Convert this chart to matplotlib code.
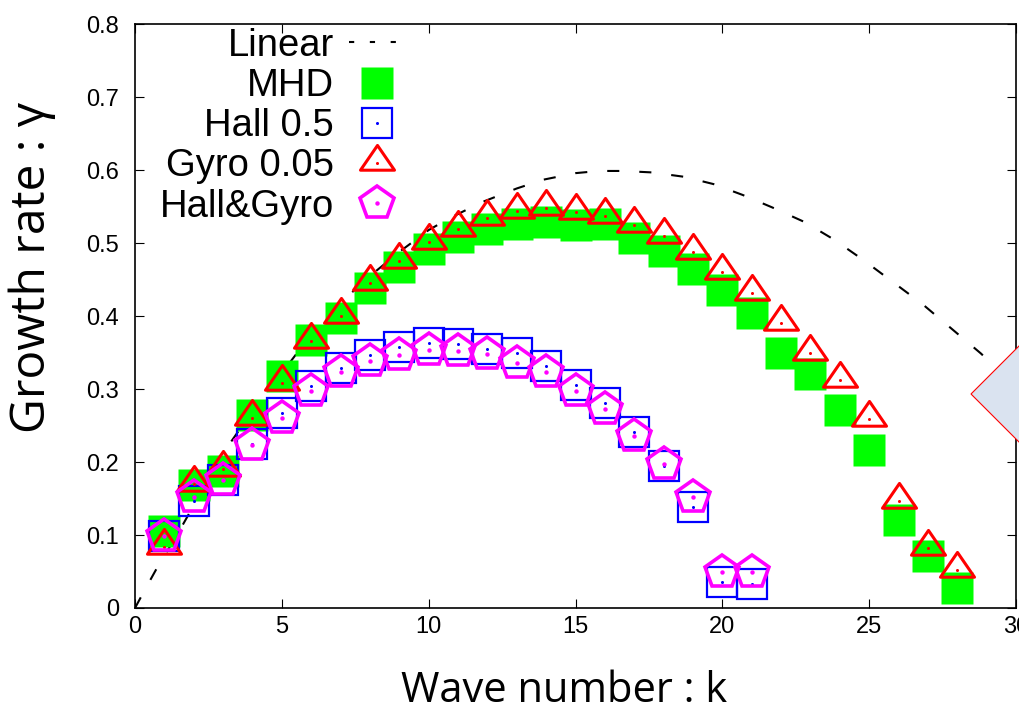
import matplotlib
matplotlib.use("Agg")
import matplotlib.pyplot as plt
from matplotlib.path import Path
from matplotlib.lines import Line2D
from matplotlib.patches import Polygon
from matplotlib.legend_handler import HandlerTuple

# ---------------- data ----------------
k_long = list(range(1, 29))
k_short = list(range(1, 22))

mhd = [0.105, 0.168, 0.188, 0.265, 0.318, 0.367, 0.398, 0.439, 0.468, 0.492,
       0.508, 0.519, 0.526, 0.529, 0.525, 0.526, 0.507, 0.489, 0.464, 0.436,
       0.404, 0.350, 0.321, 0.271, 0.217, 0.120, 0.071, 0.027]
gyro = [0.084, 0.170, 0.191, 0.261, 0.309, 0.366, 0.400, 0.445, 0.476, 0.501,
        0.519, 0.534, 0.544, 0.548, 0.543, 0.537, 0.525, 0.510, 0.488, 0.460,
        0.432, 0.391, 0.350, 0.312, 0.259, 0.147, 0.082, 0.052]
hall = [0.099, 0.146, 0.175, 0.225, 0.267, 0.304, 0.329, 0.347, 0.358, 0.363,
        0.362, 0.355, 0.349, 0.332, 0.305, 0.281, 0.241, 0.194, 0.139, 0.036,
        0.033]
hallgyro = [0.099, 0.152, 0.175, 0.223, 0.261, 0.298, 0.324, 0.338, 0.347, 0.353,
            0.352, 0.348, 0.336, 0.323, 0.297, 0.273, 0.236, 0.198, 0.152, 0.049,
            0.049]

linear_k = [0.0, 0.35, 0.75, 1.5, 2.2, 3.1, 4.0, 5.0, 6.0, 7.1, 8.0, 9.0, 10.0,
            10.7, 11.8, 13.0, 13.9, 15.0, 15.8, 16.6, 17.6, 18.7, 19.7, 20.7,
            21.7, 22.8, 23.8, 24.8, 25.8, 26.8, 27.8, 28.8, 29.3]
linear_g = [0.0, 0.026, 0.055, 0.105, 0.155, 0.218, 0.270, 0.322, 0.375, 0.422,
            0.455, 0.488, 0.518, 0.534, 0.556, 0.575, 0.587, 0.596, 0.599, 0.599,
            0.597, 0.591, 0.581, 0.566, 0.549, 0.529, 0.505, 0.477, 0.447, 0.417,
            0.383, 0.349, 0.330]

labels = ["Linear", "MHD", "Hall 0.5", "Gyro 0.05", "Hall&Gyro"]
x_ticks = [0, 5, 10, 15, 20, 25, 30]
y_ticks = [0, 0.1, 0.2, 0.3, 0.4, 0.5, 0.6, 0.7, 0.8]
y_tick_labels = ["0", "0.1", "0.2", "0.3", "0.4", "0.5", "0.6", "0.7", "0.8"]

GREEN = "#00ff00"
BLUE = "#0000ff"
RED = "#ff0000"
MAGENTA = "#ff00ff"

tri_path = Path([(0, 1.0), (-0.943, -0.371), (0.943, -0.371), (0, 1.0)],
                [Path.MOVETO, Path.LINETO, Path.LINETO, Path.CLOSEPOLY])

plt.rcParams["font.family"] = ["Liberation Sans", "DejaVu Sans"]

fig = plt.figure(figsize=(10.2, 7.11), dpi=100)
ax = fig.add_axes([135 / 1020, (711 - 608) / 711, 881 / 1020, 583.7 / 711])

ln_lin, = ax.plot(linear_k, linear_g, color="black", lw=1.5,
                  dashes=(5.8, 9.6), zorder=2)
ln_mhd, = ax.plot(k_long, mhd, ls="none", marker="s", ms=23,
                  mfc=GREEN, mec="none", zorder=3)
ln_hall, = ax.plot(k_short, hall, ls="none", marker="s", ms=22,
                   mfc="none", mec=BLUE, mew=1.6, zorder=4)
dot_hall, = ax.plot(k_short, hall, ls="none", marker="o", ms=2.2,
                    mfc=BLUE, mec="none", zorder=4)
ln_gyro, = ax.plot(k_long, gyro, ls="none", marker=tri_path, ms=26,
                   mfc="none", mec=RED, mew=2.2, zorder=5)
dot_gyro, = ax.plot(k_long, gyro, ls="none", marker="o", ms=2.2,
                    mfc=RED, mec="none", zorder=5)
ln_hg, = ax.plot(k_short, hallgyro, ls="none", marker="p", ms=25,
                 mfc="none", mec=MAGENTA, mew=2.6, zorder=6)
dot_hg, = ax.plot(k_short, hallgyro, ls="none", marker="o", ms=3.2,
                  mfc=MAGENTA, mec="none", zorder=6)

ax.set_xlim(0, 30)
ax.set_ylim(0, 0.8)
ax.set_xticks(x_ticks)
ax.set_xticklabels([str(v) for v in x_ticks])
ax.set_yticks(y_ticks)
ax.set_yticklabels(y_tick_labels)
ax.tick_params(axis="both", direction="in", length=6.5, width=0.8,
               top=True, right=True, labelsize=17, colors="black")
ax.tick_params(axis="x", pad=6)
ax.tick_params(axis="y", pad=11.5)
for s in ax.spines.values():
    s.set_linewidth(1.2)

ax.set_xlabel("Wave number : k", fontsize=30, family=["Open Sans", "DejaVu Sans"])
ax.set_ylabel("Growth rate : γ", fontsize=34.5, family=["Open Sans", "DejaVu Sans"])
ax.xaxis.set_label_coords(0.4875, -0.107)
ax.yaxis.set_label_coords(-0.090, 0.584)

# legend (gnuplot style: text first, marker after)
leg_lin = Line2D([], [], color="black", lw=1.5, dashes=(2.5, 7.5))
leg = ax.legend([leg_lin, ln_mhd, (ln_hall, dot_hall), (ln_gyro, dot_gyro),
                 (ln_hg, dot_hg)], labels,
                handler_map={tuple: HandlerTuple(ndivide=1, pad=0)},
                loc="upper left", bbox_to_anchor=(0.028, 0.994),
                markerfirst=False, frameon=False, fontsize=27.5,
                handlelength=1.47, handletextpad=0.4, labelspacing=0.11,
                borderpad=0.0, borderaxespad=0.0, numpoints=1)
for t in leg.get_texts():
    t.set_ha("right")
leg._legend_box.align = "right"

# decorative diamond at right edge
px = lambda x, y: (x / 1020, (711 - y) / 711)
R = 70
dia = Polygon([px(971, 394), px(971 + R, 394 - R), px(971 + 2 * R, 394),
               px(971 + R, 394 + R)], closed=True, transform=fig.transFigure,
              facecolor="#dae3f0", edgecolor=RED, lw=0.8, zorder=20,
              clip_on=False)
fig.patches.append(dia)

fig.savefig("out.png", dpi=100)
